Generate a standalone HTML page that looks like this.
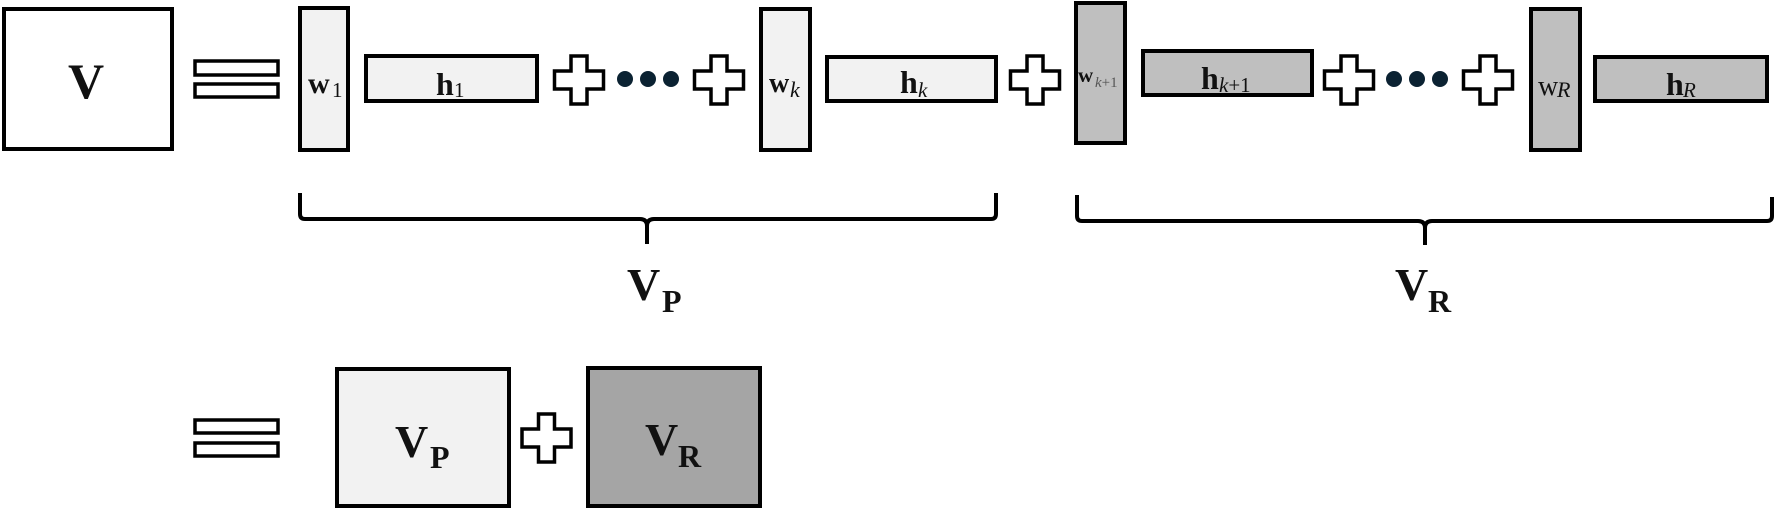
<!DOCTYPE html>
<html>
<head>
<meta charset="utf-8">
<style>
  html, body { margin: 0; padding: 0; background: #ffffff; }
  body { width: 1776px; height: 512px; overflow: hidden; }
  svg { display: block; }
  text { font-family: "Liberation Serif", serif; fill: #111; }
</style>
</head>
<body>
<svg width="1776" height="512" viewBox="0 0 1776 512" xmlns="http://www.w3.org/2000/svg">
  <!-- Main V box -->
  <rect x="4" y="9" width="168" height="140" fill="#ffffff" stroke="#000" stroke-width="4"/>
  <text x="68" y="98" font-size="50" font-weight="bold">V</text>

  <!-- equals top -->
  <rect x="195" y="61" width="83" height="14" fill="#fff" stroke="#000" stroke-width="3.5"/>
  <rect x="195" y="84" width="83" height="13" fill="#fff" stroke="#000" stroke-width="3.5"/>

  <!-- w1 -->
  <rect x="300" y="8" width="48" height="142" fill="#f2f2f2" stroke="#000" stroke-width="4"/>
  <text x="308" y="93" font-size="30" font-weight="bold">w</text>
  <text x="332" y="97" font-size="21">1</text>

  <!-- h1 -->
  <rect x="366" y="56" width="171" height="45" fill="#f2f2f2" stroke="#000" stroke-width="4"/>
  <text x="436" y="95" font-size="32" font-weight="bold">h</text>
  <text x="454" y="97" font-size="21">1</text>

  <!-- wk -->
  <rect x="761" y="9" width="49" height="141" fill="#f2f2f2" stroke="#000" stroke-width="4"/>
  <text x="769" y="92" font-size="28" font-weight="bold">w</text>
  <text x="790" y="97" font-size="22" font-style="italic">k</text>

  <!-- hk -->
  <rect x="827" y="57" width="169" height="44" fill="#f2f2f2" stroke="#000" stroke-width="4"/>
  <text x="900" y="93" font-size="32" font-weight="bold">h</text>
  <text x="918" y="97" font-size="21" font-style="italic">k</text>

  <!-- w k+1 -->
  <rect x="1076" y="3" width="49" height="140" fill="#bfbfbf" stroke="#000" stroke-width="4"/>
  <text x="1078" y="82" font-size="21" font-weight="bold">w</text>
  <text x="1095" y="87" font-size="15" style="fill:#555"><tspan font-style="italic">k</tspan>+1</text>

  <!-- h k+1 -->
  <rect x="1143" y="51" width="169" height="44" fill="#bfbfbf" stroke="#000" stroke-width="4"/>
  <text x="1201" y="89" font-size="32" font-weight="bold">h</text>
  <text x="1219" y="92" font-size="21"><tspan font-style="italic">k</tspan>+1</text>

  <!-- wR -->
  <rect x="1531" y="9" width="49" height="141" fill="#bfbfbf" stroke="#000" stroke-width="4"/>
  <text x="1538" y="95" font-size="28">w</text>
  <text x="1557" y="97" font-size="22" font-style="italic">R</text>

  <!-- hR -->
  <rect x="1595" y="57" width="172" height="44" fill="#bfbfbf" stroke="#000" stroke-width="4"/>
  <text x="1666" y="95" font-size="32" font-weight="bold">h</text>
  <text x="1683" y="97" font-size="21" font-style="italic">R</text>

  <!-- plus signs -->
  <g fill="#fff" stroke="#000" stroke-width="3.5" stroke-linejoin="miter">
    <path transform="translate(579,80)" d="M-8,-24 H8 V-9 H24.5 V9 H8 V24 H-8 V9 H-24.5 V-9 H-8 Z"/>
    <path transform="translate(719,80)" d="M-8,-24 H8 V-9 H24.5 V9 H8 V24 H-8 V9 H-24.5 V-9 H-8 Z"/>
    <path transform="translate(1035,80)" d="M-8,-24 H8 V-9 H24.5 V9 H8 V24 H-8 V9 H-24.5 V-9 H-8 Z"/>
    <path transform="translate(1349,80)" d="M-8,-24 H8 V-9 H24.5 V9 H8 V24 H-8 V9 H-24.5 V-9 H-8 Z"/>
    <path transform="translate(1488,80)" d="M-8,-24 H8 V-9 H24.5 V9 H8 V24 H-8 V9 H-24.5 V-9 H-8 Z"/>
    <path transform="translate(546.5,438)" d="M-8,-24 H8 V-9 H24.5 V9 H8 V24 H-8 V9 H-24.5 V-9 H-8 Z"/>
  </g>

  <!-- dots -->
  <g fill="#0b2232">
    <circle cx="625" cy="79" r="8"/>
    <circle cx="648" cy="79" r="8"/>
    <circle cx="671" cy="79" r="8"/>
    <circle cx="1394" cy="79" r="8"/>
    <circle cx="1417" cy="79" r="8"/>
    <circle cx="1440" cy="79" r="8"/>
  </g>

  <!-- brackets -->
  <g fill="none" stroke="#000" stroke-width="4" stroke-linecap="butt">
    <path d="M300,193 V214 Q300,219 305,219 H640 Q647,219 647,226 V244 M647,226 Q647,219 654,219 H991 Q996,219 996,214 V193"/>
    <path d="M1077,195 V216 Q1077,221 1082,221 H1418 Q1425,221 1425,228 V245 M1425,228 Q1425,221 1432,221 H1767 Q1772,221 1772,216 V197"/>
  </g>

  <!-- bracket labels -->
  <text x="627" y="300" font-size="46" font-weight="bold">V</text>
  <text x="662" y="312" font-size="32" font-weight="bold">P</text>
  <text x="1395" y="300" font-size="46" font-weight="bold">V</text>
  <text x="1428" y="312" font-size="32" font-weight="bold">R</text>

  <!-- equals bottom -->
  <rect x="195" y="420" width="83" height="13" fill="#fff" stroke="#000" stroke-width="3.5"/>
  <rect x="195" y="443" width="83" height="13" fill="#fff" stroke="#000" stroke-width="3.5"/>

  <!-- bottom VP box -->
  <rect x="337" y="369" width="172" height="137" fill="#f2f2f2" stroke="#000" stroke-width="4"/>
  <text x="395" y="457" font-size="46" font-weight="bold">V</text>
  <text x="430" y="468" font-size="32" font-weight="bold">P</text>

  <!-- bottom VR box -->
  <rect x="588" y="368" width="172" height="138" fill="#a5a5a5" stroke="#000" stroke-width="4"/>
  <text x="645" y="455" font-size="46" font-weight="bold">V</text>
  <text x="678" y="467" font-size="32" font-weight="bold">R</text>
</svg>
</body>
</html>
